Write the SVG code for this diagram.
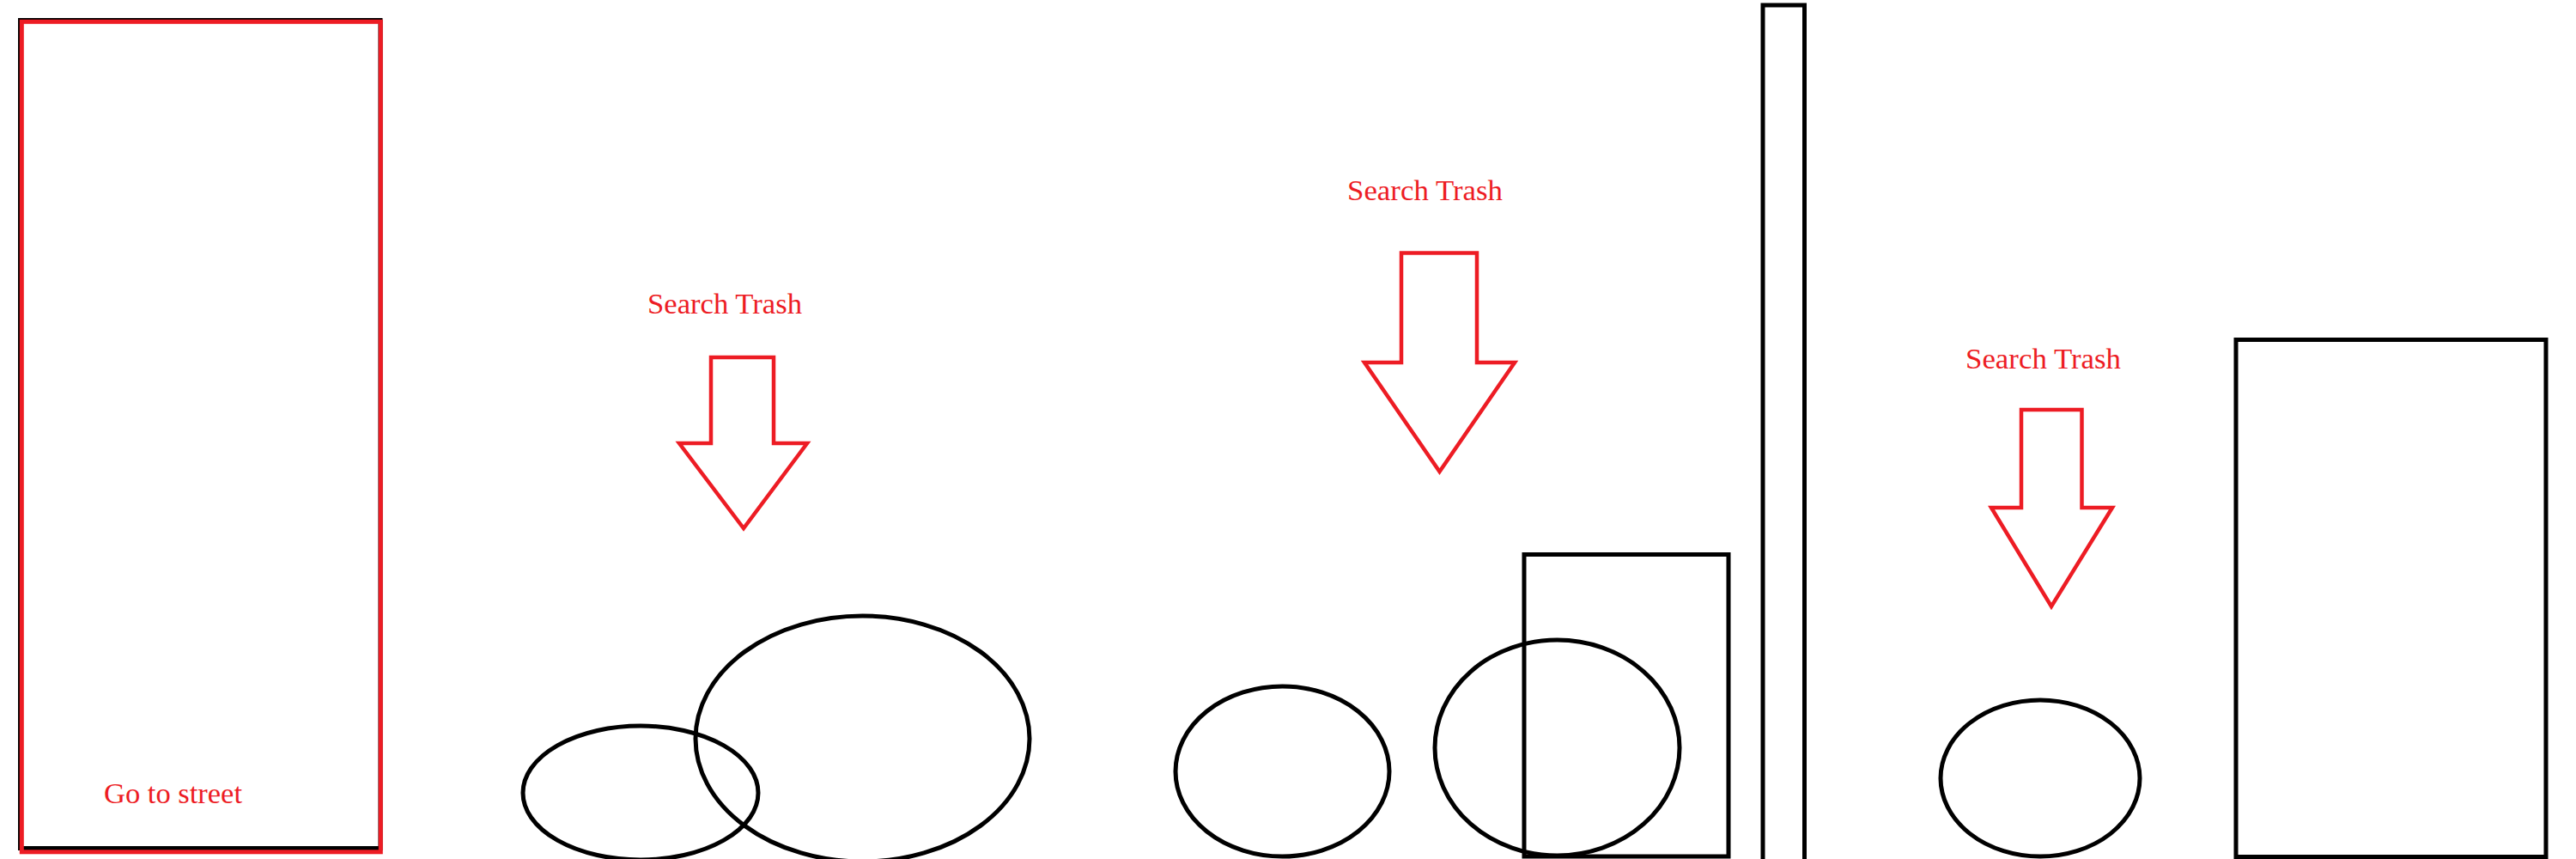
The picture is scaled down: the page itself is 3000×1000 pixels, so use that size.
<svg xmlns="http://www.w3.org/2000/svg" width="3000" height="1000" viewBox="0 0 3000 1000">
<style>
.blk{fill:none;stroke:#000;stroke-width:5}
.red{fill:none;stroke:#ED1C24;stroke-width:5}
.arr{fill:none;stroke:#ED1C24;stroke-width:4.5;stroke-linejoin:miter}
.lbl{font-family:"Liberation Serif","DejaVu Serif",serif;font-size:33px;fill:#ED1C24}
</style>
<rect width="3000" height="1000" fill="#fff"/>
<g id="street">
<rect class="blk" x="23.5" y="23.5" width="419.5" height="964"/>
<rect class="red" x="25.3" y="25.3" width="418" height="966.5"/>
<text class="lbl" x="121" y="934.5" textLength="161" lengthAdjust="spacingAndGlyphs">Go to street</text>
</g>
<g id="label1"><text class="lbl" x="754" y="364.5" textLength="180" lengthAdjust="spacingAndGlyphs">Search Trash</text></g>
<g id="label2"><text class="lbl" x="1569" y="233" textLength="181" lengthAdjust="spacingAndGlyphs">Search Trash</text></g>
<g id="label3"><text class="lbl" x="2289" y="429" textLength="181" lengthAdjust="spacingAndGlyphs">Search Trash</text></g>
<g id="trash1"><ellipse class="blk" cx="746" cy="923" rx="137" ry="78"/></g>
<g id="trash2"><ellipse class="blk" cx="1004.5" cy="860" rx="194.5" ry="143"/></g>
<g id="trash3"><ellipse class="blk" cx="1493.5" cy="898" rx="124.5" ry="99"/></g>
<g id="trash4"><ellipse class="blk" cx="1813.5" cy="870.5" rx="142.5" ry="125.5"/></g>
<g id="box1"><rect class="blk" x="1775" y="645.5" width="238" height="351.5"/></g>
<g id="pole"><rect class="blk" x="2053" y="6" width="48.5" height="1000"/></g>
<g id="trash5"><ellipse class="blk" cx="2376" cy="906" rx="116" ry="91"/></g>
<g id="box2"><rect class="blk" x="2604" y="395.5" width="361" height="602"/></g>
<g id="connectors">
<polygon class="arr" points="828,416 901,416 901,516 940,516 866,615 791,516 828,516"/>
<polygon class="arr" points="1632,294.5 1720,294.5 1720,422 1764,422 1676.5,549 1589,422 1632,422"/>
<polygon class="arr" points="2354,477 2424.5,477 2424.5,591 2460,591 2389,706 2319,591 2354,591"/>
</g>
</svg>
